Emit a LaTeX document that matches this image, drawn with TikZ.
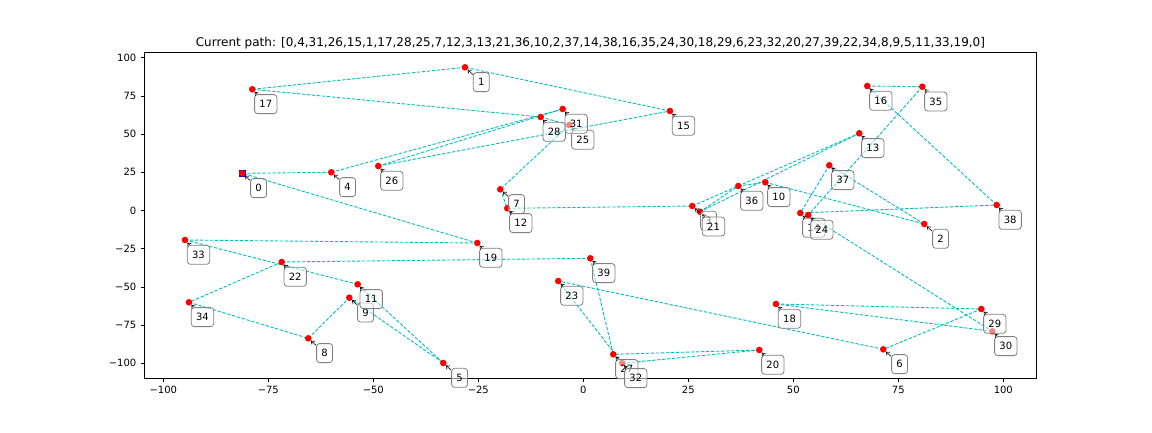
\documentclass[tikz,border=0pt]{standalone}
\usepackage{fontspec}
\setmainfont{DejaVu Sans}
\usetikzlibrary{arrows.meta,calc}
\pgfdeclarelayer{bg}
\pgfsetlayers{bg,main}
\definecolor{mplcyan}{RGB}{0,191,191}
\begin{document}
\begin{tikzpicture}[x=1pt,y=-1pt, font=\fontsize{10}{12}\selectfont,
  pt/.style={circle,fill=red,inner sep=0pt,minimum size=6.6pt},
  startpt/.style={rectangle,fill=blue,inner sep=0pt,minimum size=7.4pt},
  lbl/.style={draw=black!50,fill=white,fill opacity=0.5,text opacity=1,draw opacity=1,
    rounded corners=3pt,inner xsep=4.8pt,inner ysep=0pt,minimum height=19pt,line width=0.8pt},
  edge/.style={mplcyan,line width=0.9pt,dash pattern=on 3.4pt off 1.6pt},
  arr/.style={-{Straight Barb[length=3pt,width=4.5pt]},line width=0.6pt},
  tickmark/.style={line width=0.8pt},
  ticklbl/.style={inner sep=0pt}]
\useasboundingbox (0,0) rectangle (1152,432);
\begin{pgfonlayer}{bg}
\fill[white] (0,0) rectangle (1152,432);
\end{pgfonlayer}

% title
\node[anchor=base] (title) at (590.5,46) {\fontsize{12}{14}\selectfont Current path: [0,4,31,26,15,1,17,28,25,7,12,3,13,21,36,10,2,37,14,38,16,35,24,30,18,29,6,23,32,20,27,39,22,34,8,9,5,11,33,19,0]};

% axes frame
\draw[line width=0.8pt] (144.3,52.3) rectangle (1036.7,378.3);

% x ticks
\foreach \v/\t [count=\k] in {-100/−100,-75/−75,-50/−50,-25/−25,0/0,25/25,50/50,75/75,100/100}{
  \pgfmathsetmacro{\X}{583.3+4.2*\v}
  \draw[tickmark] (\X,378.3) -- (\X,381.8);
  \node[ticklbl] (xt\k) at (\X,389.5) {\t};
}
% y ticks
\foreach \v/\t [count=\k] in {100/100,75/75,50/50,25/25,0/0,-25/−25,-50/−50,-75/−75,-100/−100}{
  \pgfmathsetmacro{\Y}{210.5-1.528*\v}
  \draw[tickmark] (144.3,\Y) -- (140.8,\Y);
  \node[ticklbl,anchor=east] (yt\k) at (136.5,\Y) {\t};
}

% start marker
\node[startpt] (s0) at (242.3,173.3) {};
% points
\foreach \i/\px/\py in {0/242.3/173.3,1/465/67.3,2/924.3/224,3/692.3/206,4/331.3/172.3,
  5/443.3/363,6/883.3/349.3,7/500.3/189.3,8/308.3/338.3,9/349.3/297.7,10/765.3/182.3,
  11/357.7/284.3,12/507.3/208.3,13/859.3/133.3,14/800.3/213,15/670/111,16/867.3/86,
  17/252.3/89.3,18/776/304,19/477.3/243,20/759.3/350,21/700/211.7,22/281.7/262,
  23/558.3/281,24/808.3/215,25/569.3/125,26/378.3/166,27/613.3/354.3,28/540.7/117,
  29/981.3/309,30/992.3/331.3,31/562.7/109,32/622.3/363.3,33/185/240,34/189/302.3,
  35/922.3/86.7,36/738.3/186,37/829.3/165.3,38/996.7/205,39/590.3/258.3}{
  \node[pt] (p\i) at (\px,\py) {};
}

% path edges
\begin{pgfonlayer}{bg}
\foreach \a/\b in {0/4,4/31,31/26,26/15,15/1,1/17,17/28,28/25,25/7,7/12,12/3,3/13,13/21,
  21/36,36/10,10/2,2/37,37/14,14/38,38/16,16/35,35/24,24/30,30/18,18/29,29/6,6/23,23/32,
  32/20,20/27,27/39,39/22,22/34,34/8,8/9,9/5,5/11,11/33,33/19,19/0}{
  \draw[edge] (p\a.center) -- (p\b.center);
}
\end{pgfonlayer}

% labels
\foreach \i in {0,...,39}{
  \pgfmathsetmacro{\dx}{ifthenelse(\i<10,16.3,13.5)}
  \node[lbl] (l\i) at ($(p\i)+(\dx,14.8)$) {\i};
  \draw[arr] (l\i) -- (p\i);
}
\end{tikzpicture}
\end{document}
